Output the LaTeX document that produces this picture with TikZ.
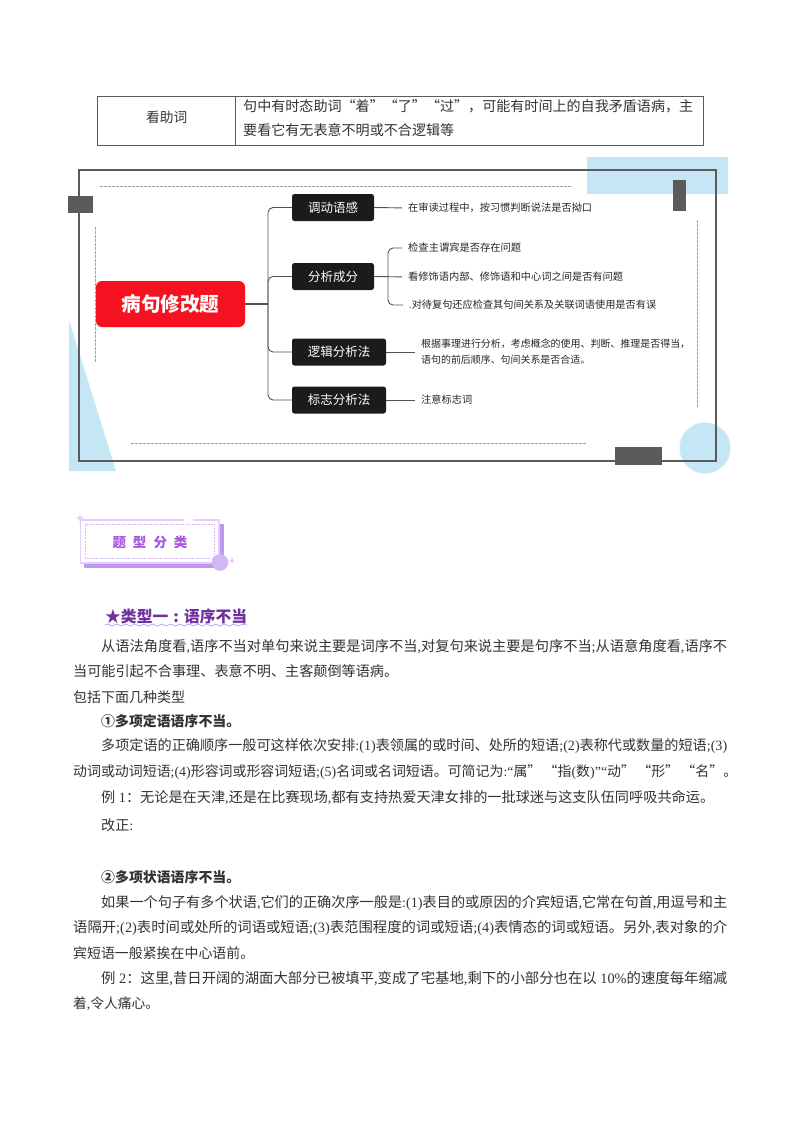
\documentclass[tikz,border=0pt]{standalone}
\usepackage{graphicx}
\usepackage{fontspec}
\setmainfont{Noto Sans CJK SC}
\newfontfamily\lat{Liberation Serif}
\usetikzlibrary{decorations.pathmorphing,shapes.geometric}
\definecolor{inkc}{HTML}{333333}
\definecolor{framec}{HTML}{5B5B5B}
\definecolor{bluec}{HTML}{C5E6F5}
\definecolor{redc}{HTML}{F5111F}
\definecolor{darkc}{HTML}{1C1A1A}
\definecolor{purpc}{HTML}{A855E0}
\definecolor{deepp}{HTML}{7030A0}
\definecolor{lilac}{HTML}{E3CFFA}
\definecolor{shadep}{HTML}{BE98F0}
\newcommand{\tl}[5]{\node[txt] (#1) at (#2,#3) {\fontsize{13.5}{13.5}\selectfont\resizebox{#4pt}{!}{#5}};}
\newcommand{\ml}[5]{\node[mtxt] (#1) at (#2,#3) {\fontsize{10}{10}\selectfont\resizebox{#4pt}{!}{#5}};}
\tikzset{
  txt/.style={anchor=west,inner sep=0pt,text=inkc},
  mtxt/.style={anchor=west,inner sep=0pt,text=black!85},
  tablerule/.style={draw=framec,line width=0.9pt},
  block/.style={fill=framec,draw=none},
  softdash/.style={draw=gray!75,line width=0.8pt,dash pattern=on 3pt off 1pt},
  blackbox/.style={fill=darkc,text=white,rounded corners=2.5pt,minimum height=27pt,inner sep=0pt,font=\fontsize{12.5}{12.5}\selectfont},
  conn/.style={draw=framec!90!black,line width=0.9pt},
  rconn/.style={conn,rounded corners=5pt},
  bluefill/.style={fill=bluec,draw=none}
}
\begin{document}
\begin{tikzpicture}[x=1pt,y=-1pt]
\useasboundingbox (0,0) rectangle (800,1132);
\fill[white] (0,0) rectangle (800,1132);
% table
\draw[tablerule] (97,96) rectangle (703,145);
\draw[tablerule] (235,96) -- (235,145);
\node[txt] (kan) at (146,117.5) {\fontsize{13.7}{13.7}\selectfont 看助词};
\tl{tb1}{243}{106}{450}{句中有时态助词“着”“了”“过”，可能有时间上的自我矛盾语病，主}
\tl{tb2}{243}{130.5}{211}{要看它有无表意不明或不合逻辑等}
% decorative frame
\fill[bluefill] (587,157) rectangle (728,194);
\fill[bluefill] (69,320) -- (69,471) -- (116,471) -- cycle;
\fill[bluefill] (705,448) circle (25.5);
\draw[framec,line width=2.6pt] (79,170) rectangle (716,461);
\fill[block] (68,196) rectangle (93,213);
\fill[block] (673,180) rectangle (686,211);
\fill[block] (615,447) rectangle (662,465);
\draw[softdash] (100,186) -- (572,186);
\draw[softdash] (95,227) -- (95,363);
\draw[softdash] (697,220) -- (697,407);
\draw[softdash] (131,443) -- (587,443);
% mind map
\node[fill=redc,text=white,rounded corners=6pt,minimum width=149pt,minimum height=46pt,inner sep=0pt,font=\fontsize{19.6}{19.6}\selectfont\bfseries] (root) at (170.5,304) {病句修改题};
\node[blackbox,minimum width=82pt] (a) at (333,207.5) {调动语感};
\node[blackbox,minimum width=82pt] (b) at (333,276.5) {分析成分};
\node[blackbox,minimum width=94pt] (c) at (339,352) {逻辑分析法};
\node[blackbox,minimum width=94pt] (d) at (339,400) {标志分析法};
\coordinate (tk) at (268,304);
\coordinate (bk) at (388,277);
\ml{a1}{408}{208}{184}{在审读过程中，按习惯判断说法是否拗口}
\ml{b1}{408}{248}{113}{检查主谓宾是否存在问题}
\ml{b2}{408}{277}{215}{看修饰语内部、修饰语和中心词之间是否有问题}
\ml{b3}{409}{305}{247}{{\lat .}对待复句还应检查其句间关系及关联词语使用是否有误}
\ml{c1}{421}{344}{269}{根据事理进行分析，考虑概念的使用、判断、推理是否得当，}
\ml{c2}{421}{360}{169}{语句的前后顺序、句间关系是否合适。}
\ml{d1}{421}{400}{51}{注意标志词}
\coordinate (cj) at (c1.west |- c.east);
\draw[conn,line width=1.2pt] (root.east) -- (tk);
\draw[rconn] (tk) |- (a.west);
\draw[rconn] (tk) |- (b.west);
\draw[rconn] (tk) |- (c.west);
\draw[rconn] (tk) |- (d.west);
\draw[conn,shorten >=6pt] (a.east) -- (a1.west);
\draw[conn,shorten >=6pt] (b.east) -- (b2.west);
\draw[rconn,shorten >=6pt] (bk) |- (b1.west);
\draw[rconn,shorten >=6pt] (bk) |- (b3.west);
\draw[conn,shorten >=6pt] (c.east) -- (cj);
\draw[conn,shorten >=6pt] (d.east) -- (d1.west);
% badge
\fill[shadep] (218,524) rectangle (223.5,568);
\fill[shadep] (84,563) rectangle (223.5,568);
\draw[lilac,line width=1.2pt,fill=white] (80.5,520) rectangle (219,563);
\fill[white] (184,518.5) rectangle (193,521.5);
\draw[lilac!80!purpc,line width=0.7pt,dash pattern=on 2pt off 1.2pt] (85.5,524.5) rectangle (214.5,558.5);
\fill[lilac] (80,513) .. controls (80.4,516.5) and (81,517.4) .. (84.5,518) .. controls (81,518.6) and (80.4,519.5) .. (80,523) .. controls (79.6,519.5) and (79,518.6) .. (75.5,518) .. controls (79,517.4) and (79.6,516.5) .. (80,513) -- cycle;
\fill[shadep!70!white] (220,562.5) circle (8.3);
\fill[shadep!50!white] (232,557) -- (233,560) -- (235,560.5) -- (233,561) -- (232,564) -- (231,561) -- (229,560.5) -- (231,560) -- cycle;
\node[inner sep=0pt,text=purpc,font=\fontsize{13.5}{13.5}\selectfont\bfseries] (badge) at (150,542.5) {题\hspace{7pt}型\hspace{7pt}分\hspace{7pt}类};
% heading
\node[txt,text=deepp,font=\bfseries] (head) at (105,616) {\fontsize{15}{15}\selectfont\resizebox{142pt}{!}{★类型一\makebox[1em][c]{:}语序不当}};
\coordinate (wa) at (105,625);
\draw[shadep,line width=0.7pt,decorate,decoration={snake,amplitude=1pt,segment length=9pt}] (wa) -- (head.east |- wa);
% body
\tl{l1}{101}{647}{626}{从语法角度看{\lat ,}语序不当对单句来说主要是词序不当{\lat ,}对复句来说主要是句序不当{\lat ;}从语意角度看{\lat ,}语序不}
\tl{l2}{73}{671}{325}{当可能引起不合事理、表意不明、主客颠倒等语病。}
\tl{l3}{73}{697}{112}{包括下面几种类型}
\node[txt,font=\bfseries] (l4) at (101,721) {\fontsize{13.5}{13.5}\selectfont\resizebox{139pt}{!}{①多项定语语序不当。}};
\tl{l5}{101}{746}{626}{多项定语的正确顺序一般可这样依次安排{\lat :(1)}表领属的或时间、处所的短语{\lat ;(2)}表称代或数量的短语{\lat ;(3)}}
\tl{l6}{73}{772}{664}{动词或动词短语{\lat ;(4)}形容词或形容词短语{\lat ;(5)}名词或名词短语。可简记为{\lat :“}属”\,“指{\lat (}数{\lat )”“}动”\,“形”\,“名”。}
\tl{l7}{101}{798}{613}{例{\lat\ 1}：无论是在天津{\lat ,}还是在比赛现场{\lat ,}都有支持热爱天津女排的一批球迷与这支队伍同呼吸共命运。}
\tl{l8}{101}{825}{32}{改正{\lat :}}
\node[txt,font=\bfseries] (l9) at (101,877) {\fontsize{13.5}{13.5}\selectfont\resizebox{139pt}{!}{②多项状语语序不当。}};
\tl{l10}{101}{903}{626}{如果一个句子有多个状语{\lat ,}它们的正确次序一般是{\lat :(1)}表目的或原因的介宾短语{\lat ,}它常在句首{\lat ,}用逗号和主}
\tl{l11}{73}{928}{654}{语隔开{\lat ;(2)}表时间或处所的词语或短语{\lat ;(3)}表范围程度的词或短语{\lat ;(4)}表情态的词或短语。另外{\lat ,}表对象的介}
\tl{l12}{73}{953}{181}{宾短语一般紧挨在中心语前。}
\tl{l13}{101}{978}{626}{例{\lat\ 2}：这里{\lat ,}昔日开阔的湖面大部分已被填平{\lat ,}变成了宅基地{\lat ,}剩下的小部分也在以{\lat\ 10\%}的速度每年缩减}
\tl{l14}{73}{1004}{86}{着{\lat ,}令人痛心。}
\end{tikzpicture}
\end{document}
